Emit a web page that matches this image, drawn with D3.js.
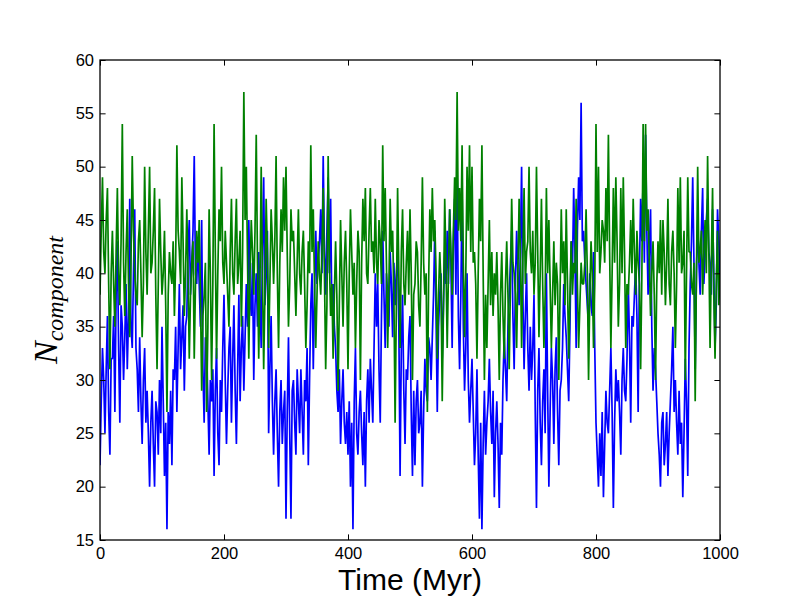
<!DOCTYPE html>
<html>
<head>
<meta charset="utf-8">
<script src="https://cdn.jsdelivr.net/npm/d3@7"></script>
<style>
  body { margin: 0; background: #fff; }
  #wrapper { width: 800px; height: 600px; }
  .tick text { font-family: "Liberation Sans", Arial, sans-serif; }
</style>
</head>
<body>
<div id="wrapper"></div>
<script>
const stepMyr = 2
const blueCounts = [
  22, 28, 33, 30, 25, 31, 36, 27, 23, 32,  32, 36, 27, 38, 43, 33, 26, 37, 35, 30,
  34, 39, 31, 36, 47, 35, 33, 40, 46, 33,  31, 27, 34, 28, 24, 30, 33, 26, 29, 25,
  20, 26, 29, 24, 20, 28, 27, 23, 30, 25,  35, 28, 21, 26, 16, 27, 24, 29, 22, 31,
  30, 35, 27, 33, 39, 31, 34, 37, 29, 35,  36, 42, 45, 38, 41, 44, 51, 40, 39, 43,
  39, 35, 45, 31, 26, 34, 33, 28, 23, 30,  28, 31, 21, 29, 33, 25, 22, 30, 27, 33,
  38, 30, 24, 29, 33, 35, 26, 32, 37, 29,  24, 31, 38, 28, 33, 36, 29, 34, 39, 35,
  45, 38, 36, 41, 30, 37, 40, 35, 42, 38,  33, 42, 49, 37, 40, 44, 25, 31, 36, 28,
  23, 28, 31, 25, 20, 27, 30, 24, 27, 29,  17, 27, 34, 25, 17, 29, 30, 26, 23, 31,
  28, 25, 31, 27, 23, 30, 28, 33, 22, 30,  37, 40, 31, 38, 44, 39, 41, 43, 46, 40,
  51, 42, 38, 44, 49, 40, 47, 36, 39, 35,  33, 29, 27, 31, 24, 28, 31, 26, 24, 27,
  23, 28, 20, 26, 16, 28, 33, 25, 23, 27,  29, 25, 22, 27, 20, 28, 31, 26, 32, 29,
  26, 33, 40, 35, 39, 31, 26, 36, 44, 38,  33, 40, 38, 35, 42, 39, 34, 41, 37, 40,
  42, 35, 21, 33, 38, 29, 24, 31, 30, 34,  36, 27, 21, 29, 22, 28, 30, 25, 26, 29,
  20, 27, 32, 29, 28, 34, 33, 30, 34, 38,  44, 36, 27, 35, 38, 40, 32, 37, 42, 39,
  44, 39, 46, 41, 33, 43, 47, 38, 50, 36,  31, 38, 48, 35, 29, 33, 40, 30, 26, 29,
  32, 27, 22, 25, 31, 23, 17, 26, 16, 24,  29, 23, 26, 28, 32, 27, 24, 29, 19, 25,
  28, 24, 18, 26, 23, 30, 34, 31, 28, 35,  38, 41, 44, 36, 31, 39, 44, 40, 37, 42,
  50, 38, 31, 36, 40, 33, 29, 35, 30, 33,  38, 27, 18, 29, 33, 26, 22, 28, 31, 25,
  40, 29, 20, 27, 33, 30, 24, 31, 34, 27,  22, 29, 30, 33, 39, 36, 34, 31, 28, 35,
  43, 40, 48, 42, 33, 44, 49, 45, 56, 43,  44, 41, 39, 37, 35, 40, 37, 36, 42, 33,
  26, 23, 20, 25, 21, 27, 19, 24, 29, 26,  25, 29, 33, 27, 18, 26, 31, 28, 30, 27,
  23, 30, 33, 29, 28, 32, 39, 34, 26, 36,  35, 38, 41, 36, 27, 40, 47, 43, 49, 41,
  53, 44, 38, 42, 46, 35, 29, 33, 31, 28,  25, 23, 20, 26, 27, 22, 24, 27, 21, 25,
  28, 31, 35, 27, 30, 26, 23, 29, 24, 26,  19, 25, 32, 28, 21, 33, 39, 43, 49, 41,
  31, 40, 45, 41, 38, 44, 48, 39, 42, 45,  47, 42, 41, 38, 46, 40, 33, 37, 46, 43,
  39
]
const greenCounts = [
  38, 44, 49, 42, 40, 45, 48, 39, 31, 40,  44, 39, 35, 42, 48, 40, 37, 43, 54, 41,
  36, 42, 46, 39, 34, 41, 51, 44, 40, 38,  37, 43, 45, 40, 34, 39, 50, 42, 38, 44,
  50, 40, 41, 44, 48, 38, 31, 39, 47, 42,  38, 40, 44, 37, 27, 38, 42, 40, 39, 43,
  36, 41, 52, 44, 42, 39, 49, 43, 36, 40,  46, 40, 32, 38, 41, 43, 32, 39, 44, 41,
  45, 38, 29, 36, 38, 41, 27, 35, 46, 40,  30, 39, 54, 42, 32, 40, 46, 43, 50, 41,
  39, 44, 41, 38, 35, 42, 47, 40, 38, 43,  47, 39, 41, 44, 35, 42, 57, 45, 50, 41,
  32, 40, 45, 42, 38, 44, 53, 41, 32, 39,  50, 40, 31, 38, 47, 42, 33, 39, 46, 43,
  39, 43, 51, 40, 33, 41, 46, 42, 49, 44,  50, 42, 35, 39, 46, 43, 44, 40, 36, 41,
  46, 40, 38, 42, 44, 39, 33, 37, 43, 40,  52, 42, 46, 39, 33, 38, 43, 40, 38, 42,
  48, 40, 31, 37, 51, 41, 36, 39, 32, 38,  43, 38, 29, 37, 45, 40, 35, 41, 44, 39,
  31, 40, 46, 42, 38, 41, 33, 39, 44, 42,  30, 41, 47, 43, 48, 40, 39, 44, 48, 42,
  43, 40, 47, 41, 39, 45, 43, 39, 52, 43,  48, 41, 33, 39, 47, 42, 44, 38, 26, 37,
  48, 40, 33, 42, 46, 39, 37, 41, 44, 38,  46, 40, 30, 38, 39, 43, 42, 37, 35, 41,
  49, 41, 38, 40, 27, 39, 46, 42, 48, 43,  45, 40, 32, 38, 42, 39, 28, 37, 47, 41,
  33, 40, 46, 42, 38, 44, 49, 45, 57, 44,  48, 43, 52, 41, 34, 40, 50, 44, 52, 42,
  50, 41, 42, 39, 32, 40, 47, 43, 52, 40,  30, 38, 33, 39, 45, 37, 42, 36, 40, 38,
  42, 37, 30, 38, 42, 36, 32, 39, 43, 38,  31, 39, 47, 41, 40, 38, 33, 40, 47, 42,
  33, 41, 48, 39, 42, 43, 50, 42, 40, 44,  38, 41, 50, 42, 34, 40, 47, 39, 33, 38,
  48, 40, 45, 39, 33, 38, 43, 37, 41, 39,  30, 38, 46, 40, 43, 37, 46, 39, 32, 38,
  43, 38, 41, 40, 47, 39, 33, 37, 41, 39,  39, 41, 46, 40, 30, 38, 43, 40, 33, 39,
  54, 42, 50, 40, 42, 45, 44, 41, 48, 43,  53, 42, 33, 40, 48, 41, 49, 43, 35, 39,
  48, 40, 49, 42, 33, 39, 38, 41, 45, 40,  47, 42, 38, 44, 41, 39, 31, 40, 54, 43,
  54, 44, 46, 41, 36, 40, 43, 38, 30, 39,  43, 40, 45, 38, 45, 42, 37, 41, 47, 39,
  37, 42, 44, 40, 33, 39, 48, 41, 49, 40,  41, 44, 30, 40, 49, 42, 42, 39, 38, 41,
  28, 40, 50, 41, 42, 44, 38, 42, 45, 40,  51, 42, 33, 41, 48, 38, 32, 39, 44, 37,
  40
]
const seriesColors = ["#0000ff", "#008000"]
const xTicks = [0, 200, 400, 600, 800, 1000]
const yTicks = [15, 20, 25, 30, 35, 40, 45, 50, 55, 60]

const dimensions = {
  width: 800,
  height: 600,
  margin: { top: 60, right: 80, bottom: 60, left: 100 },
}
dimensions.boundedWidth = dimensions.width - dimensions.margin.left - dimensions.margin.right
dimensions.boundedHeight = dimensions.height - dimensions.margin.top - dimensions.margin.bottom

const svg = d3.select("#wrapper").append("svg")
  .attr("width", dimensions.width)
  .attr("height", dimensions.height)
const bounds = svg.append("g")
  .attr("transform", `translate(${dimensions.margin.left},${dimensions.margin.top})`)

const xScale = d3.scaleLinear().domain([0, 1000]).range([0, dimensions.boundedWidth])
const yScale = d3.scaleLinear().domain([15, 60]).range([dimensions.boundedHeight, 0])

const lineGen = d3.line()
  .x((d, i) => xScale(i * stepMyr))
  .y(d => yScale(d))

bounds.append("defs").append("clipPath").attr("id", "clip")
  .append("rect").attr("width", dimensions.boundedWidth).attr("height", dimensions.boundedHeight)

const plot = bounds.append("g").attr("clip-path", "url(#clip)")
;[blueCounts, greenCounts].forEach((series, k) => {
  plot.append("path")
    .datum(series)
    .attr("d", lineGen)
    .attr("fill", "none")
    .attr("stroke", seriesColors[k])
    .attr("stroke-width", 1.7)
    .attr("stroke-linejoin", "bevel")
})

// axes: ticks point inward on all four sides
const tick = -5.6
const styleAxis = g => {
  g.select(".domain").remove()
  g.selectAll(".tick line").attr("stroke", "#000").attr("stroke-width", 1)
  g.selectAll(".tick text").attr("fill", "#000").style("font-size", "16.5px")
}
bounds.append("g")
  .attr("transform", `translate(0,${dimensions.boundedHeight})`)
  .call(d3.axisBottom(xScale).tickValues(xTicks).tickSize(tick).tickPadding(7).tickFormat(d3.format("d")))
  .call(styleAxis)
bounds.append("g")
  .call(d3.axisLeft(yScale).tickValues(yTicks).tickSize(tick).tickPadding(6).tickFormat(d3.format("d")))
  .call(styleAxis)
bounds.append("g")
  .call(d3.axisTop(xScale).tickValues(xTicks).tickSize(tick).tickFormat(""))
  .call(styleAxis)
bounds.append("g")
  .attr("transform", `translate(${dimensions.boundedWidth},0)`)
  .call(d3.axisRight(yScale).tickValues(yTicks).tickSize(tick).tickFormat(""))
  .call(styleAxis)

bounds.append("rect")
  .attr("width", dimensions.boundedWidth)
  .attr("height", dimensions.boundedHeight)
  .attr("fill", "none")
  .attr("stroke", "#000")
  .attr("stroke-width", 1.3)

svg.append("text")
  .attr("x", dimensions.margin.left + dimensions.boundedWidth / 2)
  .attr("y", 590)
  .attr("text-anchor", "middle")
  .style("font-family", "'Liberation Sans', Arial, sans-serif")
  .style("font-size", "30px")
  .text("Time (Myr)")

const yLabel = svg.append("text")
  .attr("transform", `translate(57,${dimensions.margin.top + dimensions.boundedHeight / 2}) rotate(-90)`)
  .attr("text-anchor", "middle")
  .style("font-family", "'Liberation Serif', 'DejaVu Serif', serif")
  .style("font-style", "italic")
yLabel.append("tspan").style("font-size", "34px").text("N")
yLabel.append("tspan").attr("dy", 6).style("font-size", "24px").text("component")
</script>
</body>
</html>
